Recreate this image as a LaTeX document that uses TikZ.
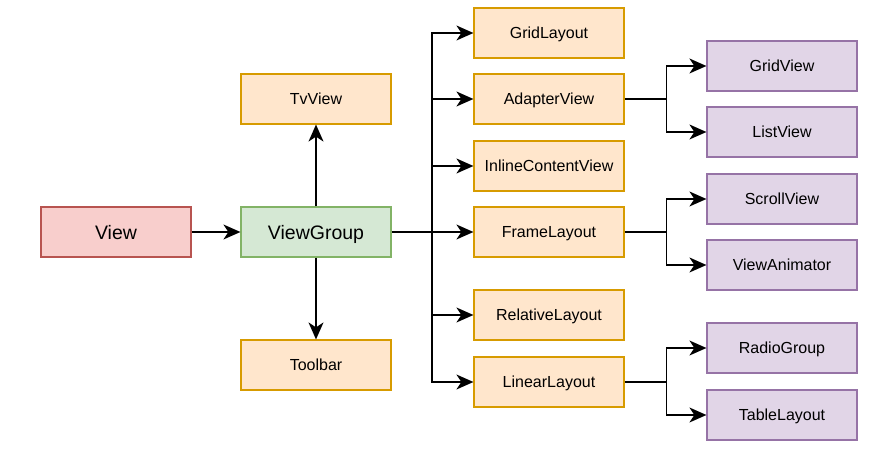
\documentclass[tikz,border=0pt]{standalone}
\usepackage{fontspec}
\setmainfont{Liberation Sans}
\usepackage{xcolor}
\usetikzlibrary{arrows.meta, positioning}

\definecolor{redfill}{HTML}{F8CECC}
\definecolor{redline}{HTML}{B85450}
\definecolor{greenfill}{HTML}{D5E8D4}
\definecolor{greenline}{HTML}{82B366}
\definecolor{orangefill}{HTML}{FFE6CC}
\definecolor{orangeline}{HTML}{D79B00}
\definecolor{purplefill}{HTML}{E1D5E7}
\definecolor{purpleline}{HTML}{9673A6}

\tikzset{
  box/.style={draw, line width=1.2pt, minimum width=150pt, minimum height=50pt, inner sep=0pt, text depth=0pt, font=\fontsize{16}{19}\selectfont},
  bigbox/.style={box, font=\fontsize{19.5}{23}\selectfont},
  viewbox/.style={bigbox, fill=redfill, draw=redline},
  groupbox/.style={bigbox, fill=greenfill, draw=greenline},
  layoutbox/.style={box, fill=orangefill, draw=orangeline},
  leafbox/.style={box, fill=purplefill, draw=purpleline},
  link/.style={line width=1.5pt, -{Stealth[length=17pt, width=15pt, inset=5pt]}}
}

\begin{document}
\begin{tikzpicture}[x=1pt, y=-1pt]
    \useasboundingbox (0,0) rectangle (892,454);
    % Racine
    \node[viewbox] (view) at (116,232) {View};
    \node[groupbox] (viewgroup) at (316,232) {ViewGroup};
    \node[layoutbox] (tvview) at (316,99) {TvView};
    \node[layoutbox] (toolbar) at (316,365) {Toolbar};
    \draw[link] (view) -- (viewgroup);
    \draw[link] (viewgroup) -- (tvview);
    \draw[link] (viewgroup) -- (toolbar);
    % Sous-classes de ViewGroup
    \coordinate (bus) at (432,232);
    \draw[line width=1.5pt] (viewgroup.east) -- (bus);
    \foreach \y/\name/\txt in {33/gridlayout/GridLayout, 99/adapterview/AdapterView,
        166/inlinecontent/InlineContentView, 232/framelayout/FrameLayout,
        315/relativelayout/RelativeLayout, 382/linearlayout/LinearLayout} {
      \node[layoutbox] (\name) at (549,\y) {\txt};
      \draw[link] (bus) |- (\name.west);
    }
    % Feuilles
    \foreach \y/\name/\txt in {66/gridview/GridView, 132/listview/ListView,
        199/scrollview/ScrollView, 265/viewanimator/ViewAnimator,
        348/radiogroup/RadioGroup, 415/tablelayout/TableLayout} {
      \node[leafbox] (\name) at (782,\y) {\txt};
    }
    \foreach \from/\a/\b in {adapterview/gridview/listview, framelayout/scrollview/viewanimator,
        linearlayout/radiogroup/tablelayout} {
      \coordinate (\from-split) at ([xshift=42pt]\from.east);
      \draw[line width=1.5pt] (\from.east) -- (\from-split);
      \draw[link] (\from-split) |- (\a.west);
      \draw[link] (\from-split) |- (\b.west);
    }
  \end{tikzpicture}
\end{document}
